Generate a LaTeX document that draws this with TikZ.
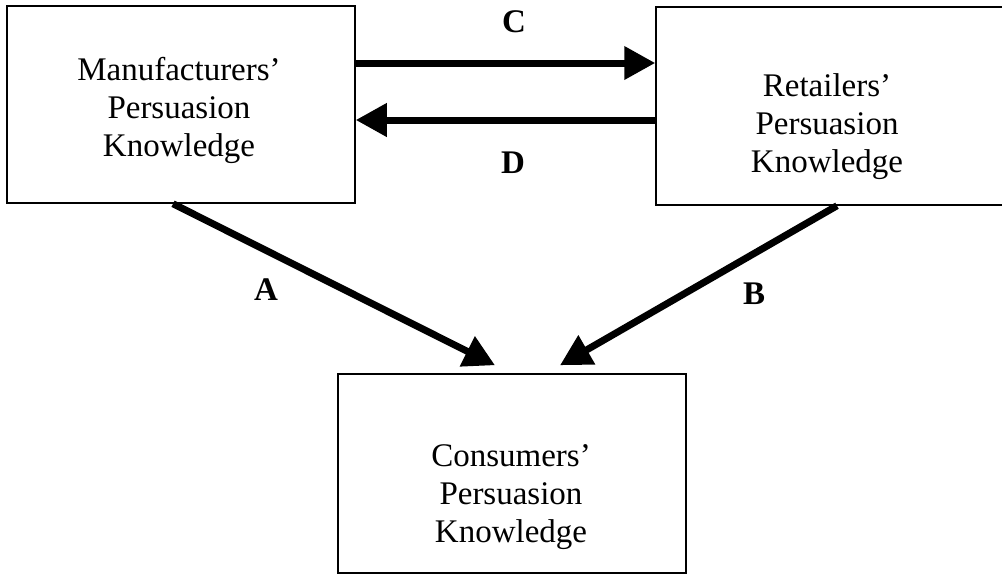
\documentclass[tikz,border=0pt]{standalone}
\usepackage{fontspec}
\setmainfont{Liberation Serif}
\usetikzlibrary{arrows.meta}
\begin{document}
\begin{tikzpicture}[x=1pt,y=-1pt,
  box/.style={draw=black,line width=1.5pt,minimum width=348pt,inner sep=0pt},
  txt/.style={align=center,font=\fontsize{33}{38}\selectfont,inner sep=0pt},
  lbl/.style={font=\fontsize{33}{38}\selectfont\bfseries,inner sep=0pt},
  arr/.style={line width=7pt,-{Triangle[length=31pt,width=32pt]}}]
\useasboundingbox (0,0) rectangle (1002,574);
\node[box,minimum height=197pt] (man) at (181,104.5) {};
\node[box,minimum height=198pt] (ret) at (830,106) {};
\node[box,minimum height=199pt] (con) at (512,473.5) {};
\node[txt] (mant) at (179,110) {Manufacturers’\\Persuasion\\Knowledge};
\node[txt] (rett) at (827,127) {Retailers’\\Persuasion\\Knowledge};
\node[txt] (cont) at (511,497) {Consumers’\\Persuasion\\Knowledge};
\coordinate (cy) at (0,63);
\coordinate (dy) at (0,120);
\draw[arr] (man.east |- cy) -- (ret.west |- cy);
\draw[arr] (ret.west |- dy) -- (man.east |- dy);
\draw[arr] ([xshift=-8pt]man.south) -- ([xshift=-17pt,yshift=8pt]con.north);
\draw[arr] ([xshift=7pt]ret.south) -- ([xshift=48pt,yshift=8pt]con.north);
\node[lbl] (lc) at (514,22) {C};
\node[lbl] (ld) at (513,163) {D};
\node[lbl] (la) at (266,290) {A};
\node[lbl] (lb) at (754,294) {B};
\end{tikzpicture}
\end{document}
